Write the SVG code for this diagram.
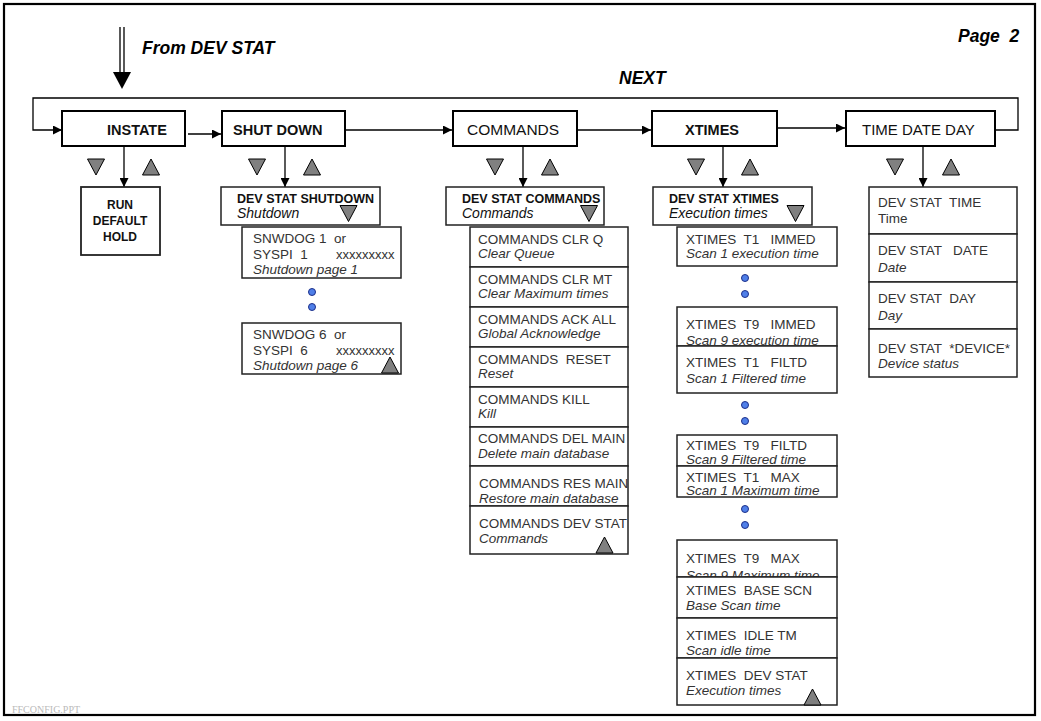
<svg xmlns="http://www.w3.org/2000/svg" xmlns:xlink="http://www.w3.org/1999/xlink" width="1041" height="721" viewBox="0 0 1041 721">
<style>
.frame{fill:none;stroke:#000;stroke-width:2.2}
.main{fill:#fff;stroke:#000;stroke-width:2}
.box{fill:#fff;stroke:#222;stroke-width:1.5}
.conn{fill:none;stroke:#000;stroke-width:1.3}
.lbl{font-family:"Liberation Sans",Arial,sans-serif;font-size:14.5px;fill:#111}
.bold{font-weight:bold}
.t{font-family:"Liberation Sans",Arial,sans-serif;font-size:13.5px;fill:#333;white-space:pre}
.h{font-family:"Liberation Sans",Arial,sans-serif;font-size:12.5px;fill:#111;white-space:pre}
.hi{font-size:14px;font-style:italic}
.i{font-style:italic}
.ti{font-family:"Liberation Sans",Arial,sans-serif;font-size:17.5px;font-weight:bold;font-style:italic;fill:#000;white-space:pre}
.tri{fill:#808080;stroke:#000;stroke-width:1}
.dot{fill:#4f7fe8;stroke:#1c2f8a;stroke-width:1}
.foot{font-family:"Liberation Serif","Times New Roman",serif;font-size:10px;fill:#bbb}
</style>
<defs>
<marker id="ah" viewBox="0 0 10 10" refX="10" refY="5" markerWidth="10" markerHeight="9" markerUnits="userSpaceOnUse" orient="auto"><path d="M0,0 L10,5 L0,10 Z" fill="#000"/></marker>
<path id="dn" class="tri" d="M-8.5,-8 H8.5 L0,8 Z"/>
<path id="up" class="tri" d="M-8.5,8 H8.5 L0,-8 Z"/>
<circle id="dt" class="dot" r="3.5"/>
</defs>
<rect x="0" y="0" width="1041" height="721" fill="#fff"/>
<rect class="frame" x="4" y="4" width="1031" height="711"/>
<text class="ti" x="142" y="54">From DEV STAT</text>
<text class="ti" x="619" y="84">NEXT</text>
<text class="ti" x="958" y="42">Page  2</text>
<text class="foot" x="12" y="713">FFCONFIG.PPT</text>

<g id="connectors">
<line x1="120" y1="27" x2="120" y2="73" stroke="#000" stroke-width="1.3"/>
<line x1="124" y1="27" x2="124" y2="73" stroke="#000" stroke-width="1.3"/>
<path d="M113,72 H131 L122,89 Z" fill="#000"/>
<path class="conn" d="M995,130 H1018 V98 H33 V130 H62" marker-end="url(#ah)"/>
<path class="conn" d="M188,134 H221" marker-end="url(#ah)"/>
<path class="conn" d="M345,130 H452" marker-end="url(#ah)"/>
<path class="conn" d="M577,130 H651" marker-end="url(#ah)"/>
<path class="conn" d="M777,128 H845" marker-end="url(#ah)"/>
<path class="conn" d="M124,146 V187" marker-end="url(#ah)"/>
<path class="conn" d="M285,146 V187" marker-end="url(#ah)"/>
<path class="conn" d="M523,146 V187" marker-end="url(#ah)"/>
<path class="conn" d="M723,146 V187" marker-end="url(#ah)"/>
<path class="conn" d="M923,146 V187" marker-end="url(#ah)"/>
<use href="#dn" x="96" y="167"/><use href="#up" x="151" y="167"/>
<use href="#dn" x="257" y="167"/><use href="#up" x="312" y="167"/>
<use href="#dn" x="495" y="167"/><use href="#up" x="550" y="167"/>
<use href="#dn" x="696" y="167"/><use href="#up" x="750" y="167"/>
<use href="#dn" x="895" y="167"/><use href="#up" x="951" y="167"/>
</g>

<g id="instate"><rect class="main" x="62" y="111" width="123" height="35"/><text class="lbl bold" x="107" y="135">INSTATE</text></g>
<g id="shutdown"><rect class="main" x="222" y="111" width="123" height="35"/><text class="lbl bold" x="233" y="135">SHUT DOWN</text></g>
<g id="commands"><rect class="main" x="453" y="111" width="124" height="35"/><text class="lbl" x="467" y="135" style="font-size:15.5px">COMMANDS</text></g>
<g id="xtimes"><rect class="main" x="652" y="111" width="125" height="35"/><text class="lbl bold" x="685" y="135">XTIMES</text></g>
<g id="timedateday"><rect class="main" x="846" y="111" width="149" height="35"/><text class="lbl" x="862" y="135" style="font-size:15px">TIME DATE DAY</text></g>

<g id="run-default-hold"><rect class="box" x="81" y="187" width="79" height="68" style="stroke-width:1.8"/>
<text class="h bold" x="120" y="209" text-anchor="middle" style="font-size:12px">RUN</text>
<text class="h bold" x="120" y="225" text-anchor="middle" style="font-size:12px">DEFAULT</text>
<text class="h bold" x="120" y="241" text-anchor="middle" style="font-size:12px">HOLD</text></g>

<g id="devstat-shutdown"><rect class="box" x="221" y="187" width="159" height="38"/>
<text class="h bold" x="237" y="203">DEV STAT SHUTDOWN</text><text class="h hi" x="237" y="218">Shutdown</text>
<use href="#dn" x="348.5" y="213.5"/></g>
<g id="snwdog1"><rect class="box" x="242" y="227" width="159" height="51"/>
<text class="t" x="253" y="243">SNWDOG 1  or</text><text class="t" x="253" y="259">SYSPI  1</text><text class="t" x="336" y="259" style="font-size:13px">xxxxxxxxx</text><text class="t i" x="253" y="274">Shutdown page 1</text></g>
<g id="shutdown-dots"><use href="#dt" x="312" y="292"/><use href="#dt" x="312" y="307"/></g>
<g id="snwdog6"><rect class="box" x="242" y="323" width="159" height="51"/>
<text class="t" x="253" y="339">SNWDOG 6  or</text><text class="t" x="253" y="355">SYSPI  6</text><text class="t" x="336" y="355" style="font-size:13px">xxxxxxxxx</text><text class="t i" x="253" y="370">Shutdown page 6</text>
<use href="#up" x="390" y="365"/></g>

<g id="devstat-commands"><rect class="box" x="446" y="187" width="158" height="38"/>
<text class="h bold" x="462" y="203">DEV STAT COMMANDS</text><text class="h hi" x="462" y="218">Commands</text>
<use href="#dn" x="589" y="213.5"/></g>
<g id="cmd-clrq"><rect class="box" x="470" y="227" width="158" height="40"/><text class="t" x="478" y="244">COMMANDS CLR Q</text><text class="t i" x="478" y="258">Clear Queue</text></g>
<g id="cmd-clrmt"><rect class="box" x="470" y="267" width="158" height="40"/><text class="t" x="478" y="284">COMMANDS CLR MT</text><text class="t i" x="478" y="298">Clear Maximum times</text></g>
<g id="cmd-ackall"><rect class="box" x="470" y="307" width="158" height="40"/><text class="t" x="478" y="324">COMMANDS ACK ALL</text><text class="t i" x="478" y="338">Global Acknowledge</text></g>
<g id="cmd-reset"><rect class="box" x="470" y="347" width="158" height="40"/><text class="t" x="478" y="364">COMMANDS  RESET</text><text class="t i" x="478" y="378">Reset</text></g>
<g id="cmd-kill"><rect class="box" x="470" y="387" width="158" height="40"/><text class="t" x="478" y="404">COMMANDS KILL</text><text class="t i" x="478" y="418">Kill</text></g>
<g id="cmd-delmain"><rect class="box" x="470" y="427" width="158" height="39"/><text class="t" x="478" y="443">COMMANDS DEL MAIN</text><text class="t i" x="478" y="458">Delete main database</text></g>
<g id="cmd-resmain"><rect class="box" x="470" y="466" width="158" height="40"/><text class="t" x="479" y="488">COMMANDS RES MAIN</text><text class="t i" x="479" y="503">Restore main database</text></g>
<g id="cmd-devstat"><rect class="box" x="470" y="506" width="158" height="48"/><text class="t" x="479" y="528">COMMANDS DEV STAT</text><text class="t i" x="479" y="543">Commands</text>
<use href="#up" x="604.5" y="545"/></g>

<g id="devstat-xtimes"><rect class="box" x="653" y="187" width="159" height="38"/>
<text class="h bold" x="669" y="203">DEV STAT XTIMES</text><text class="h hi" x="669" y="218">Execution times</text>
<use href="#dn" x="795.5" y="213.5"/></g>
<g id="xt-t1-immed"><rect class="box" x="677" y="227" width="160" height="39"/><text class="t" x="686" y="244">XTIMES  T1   IMMED</text><text class="t i" x="686" y="258">Scan 1 execution time</text></g>
<g id="xt-dots1"><use href="#dt" x="745" y="278"/><use href="#dt" x="745" y="294"/></g>
<g id="xt-t9-immed"><rect class="box" x="677" y="307" width="160" height="39"/><text class="t" x="686" y="329">XTIMES  T9   IMMED</text><text class="t i" x="686" y="345">Scan 9 execution time</text></g>
<g id="xt-t1-filtd"><rect class="box" x="677" y="346" width="160" height="47"/><text class="t" x="686" y="367">XTIMES  T1   FILTD</text><text class="t i" x="686" y="383">Scan 1 Filtered time</text></g>
<g id="xt-dots2"><use href="#dt" x="745" y="405"/><use href="#dt" x="745" y="421"/></g>
<g id="xt-t9-filtd"><rect class="box" x="677" y="435" width="160" height="31"/><text class="t" x="686" y="450">XTIMES  T9   FILTD</text><text class="t i" x="686" y="464">Scan 9 Filtered time</text></g>
<g id="xt-t1-max"><rect class="box" x="677" y="466" width="160" height="31"/><text class="t" x="686" y="482">XTIMES  T1   MAX</text><text class="t i" x="686" y="495">Scan 1 Maximum time</text></g>
<g id="xt-dots3"><use href="#dt" x="745" y="509"/><use href="#dt" x="745" y="525"/></g>
<g id="xt-t9-max"><rect class="box" x="677" y="540" width="160" height="37"/><text class="t" x="686" y="563">XTIMES  T9   MAX</text><text class="t i" x="686" y="580">Scan 9 Maximum time</text></g>
<g id="xt-basescn"><rect class="box" x="677" y="577" width="160" height="41"/><text class="t" x="686" y="595">XTIMES  BASE SCN</text><text class="t i" x="686" y="610">Base Scan time</text></g>
<g id="xt-idletm"><rect class="box" x="677" y="618" width="160" height="40"/><text class="t" x="686" y="640">XTIMES  IDLE TM</text><text class="t i" x="686" y="655">Scan idle time</text></g>
<g id="xt-devstat"><rect class="box" x="677" y="658" width="160" height="47"/><text class="t" x="686" y="680">XTIMES  DEV STAT</text><text class="t i" x="686" y="695">Execution times</text>
<use href="#up" x="812.5" y="697"/></g>

<g id="ds-time"><rect class="box" x="869" y="187" width="148" height="47"/><text class="t" x="878" y="207">DEV STAT  TIME</text><text class="t" x="878" y="223">Time</text></g>
<g id="ds-date"><rect class="box" x="869" y="234" width="148" height="48"/><text class="t" x="878" y="255">DEV STAT   DATE</text><text class="t i" x="878" y="272">Date</text></g>
<g id="ds-day"><rect class="box" x="869" y="282" width="148" height="47"/><text class="t" x="878" y="303">DEV STAT  DAY</text><text class="t i" x="878" y="320">Day</text></g>
<g id="ds-device"><rect class="box" x="869" y="329" width="148" height="48"/><text class="t" x="878" y="353">DEV STAT  *DEVICE*</text><text class="t i" x="878" y="368">Device status</text></g>
</svg>
